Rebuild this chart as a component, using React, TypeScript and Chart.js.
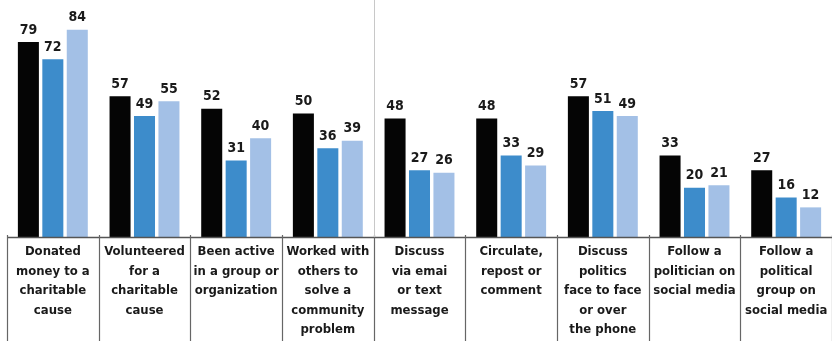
import React, { useEffect, useRef } from "react";
import { Chart, registerables } from "chart.js";

Chart.register(...registerables);

const categories: string[][] = [
  ["Donated", "money to a", "charitable", "cause"],
  ["Volunteered", "for a", "charitable", "cause"],
  ["Been active", "in a group or", "organization"],
  ["Worked with", "others to", "solve a", "community", "problem"],
  ["Discuss", "via emai", "or text", "message"],
  ["Circulate,", "repost or", "comment"],
  ["Discuss", "politics", "face to face", "or over", "the phone"],
  ["Follow a", "politician on", "social media"],
  ["Follow a", "political", "group on", "social media"],
];

const seriesA = [79, 57, 52, 50, 48, 48, 57, 33, 27];
const seriesB = [72, 49, 31, 36, 27, 33, 51, 20, 16];
const seriesC = [84, 55, 40, 39, 26, 29, 49, 21, 12];

const FONT = "'DejaVu Sans Condensed', 'Liberation Sans Narrow', 'Open Sans', sans-serif";

const decorPlugin = {
  id: "decor",
  afterDraw(chart: any) {
    const ctx = chart.ctx;
    const xs = chart.scales.x;
    const area = chart.chartArea;
    const n = categories.length;
    const half = (xs.getPixelForValue(1) - xs.getPixelForValue(0)) / 2;
    ctx.save();
    // baseline
    ctx.strokeStyle = "#555";
    ctx.lineWidth = 1.5;
    ctx.beginPath();
    ctx.moveTo(xs.getPixelForValue(0) - half, area.bottom + 0.5);
    ctx.lineTo(chart.width, area.bottom + 0.5);
    ctx.stroke();
    // dividers in label area
    ctx.strokeStyle = "#666";
    ctx.lineWidth = 1.2;
    for (let i = 0; i <= n; i++) {
      const x = Math.round(xs.getPixelForValue(i) - half) + 0.5;
      ctx.beginPath();
      ctx.moveTo(x, area.bottom - 2);
      ctx.lineTo(x, chart.height);
      ctx.stroke();
    }
    // full-height divider between groups 4 and 5
    const xm = Math.round(xs.getPixelForValue(4) - half) + 0.5;
    ctx.strokeStyle = "#c8c8c8";
    ctx.lineWidth = 1;
    ctx.beginPath();
    ctx.moveTo(xm, 0);
    ctx.lineTo(xm, area.bottom);
    ctx.stroke();
    // value labels
    ctx.fillStyle = "#1a1a1a";
    ctx.font = "bold 14px " + FONT;
    ctx.textAlign = "center";
    ctx.textBaseline = "bottom";
    chart.data.datasets.forEach((ds: any, di: number) => {
      const meta = chart.getDatasetMeta(di);
      meta.data.forEach((bar: any, i: number) => {
        ctx.fillText(String(ds.data[i]), bar.x, bar.y - 5);
      });
    });
    ctx.restore();
  },
};

export default function App() {
  const ref = useRef<HTMLCanvasElement | null>(null);
  useEffect(() => {
    document.body.style.margin = "0";
    const canvas = ref.current!;
    const chart = new Chart(canvas, {
      type: "bar",
      data: {
        labels: categories,
        datasets: [
          { data: seriesA, backgroundColor: "#050505" },
          { data: seriesB, backgroundColor: "#3d8ccb" },
          { data: seriesC, backgroundColor: "#a3c0e6" },
        ],
      },
      options: {
        animation: false,
        responsive: false,
        maintainAspectRatio: false,
        layout: { padding: { left: 7, right: -3, top: 0, bottom: 0 } },
        plugins: { legend: { display: false }, tooltip: { enabled: false } },
        datasets: { bar: { categoryPercentage: 0.8, barPercentage: 0.86 } },
        scales: {
          x: {
            grid: { display: false, drawTicks: false },
            border: { display: false },
            ticks: {
              color: "#1a1a1a",
              padding: 5,
              maxRotation: 0,
              autoSkip: false,
              font: { family: FONT, size: 13, weight: "bold", lineHeight: 1.5 },
            },
            afterFit(scale: any) {
              scale.height = 104;
              scale.paddingLeft = 0;
              scale.paddingRight = 0;
            },
          },
          y: {
            display: false,
            min: 0,
            max: 96,
          },
        },
      },
      plugins: [decorPlugin],
    });
    return () => chart.destroy();
  }, []);
  return <canvas ref={ref} width={832} height={341} style={{ display: "block" }} />;
}
